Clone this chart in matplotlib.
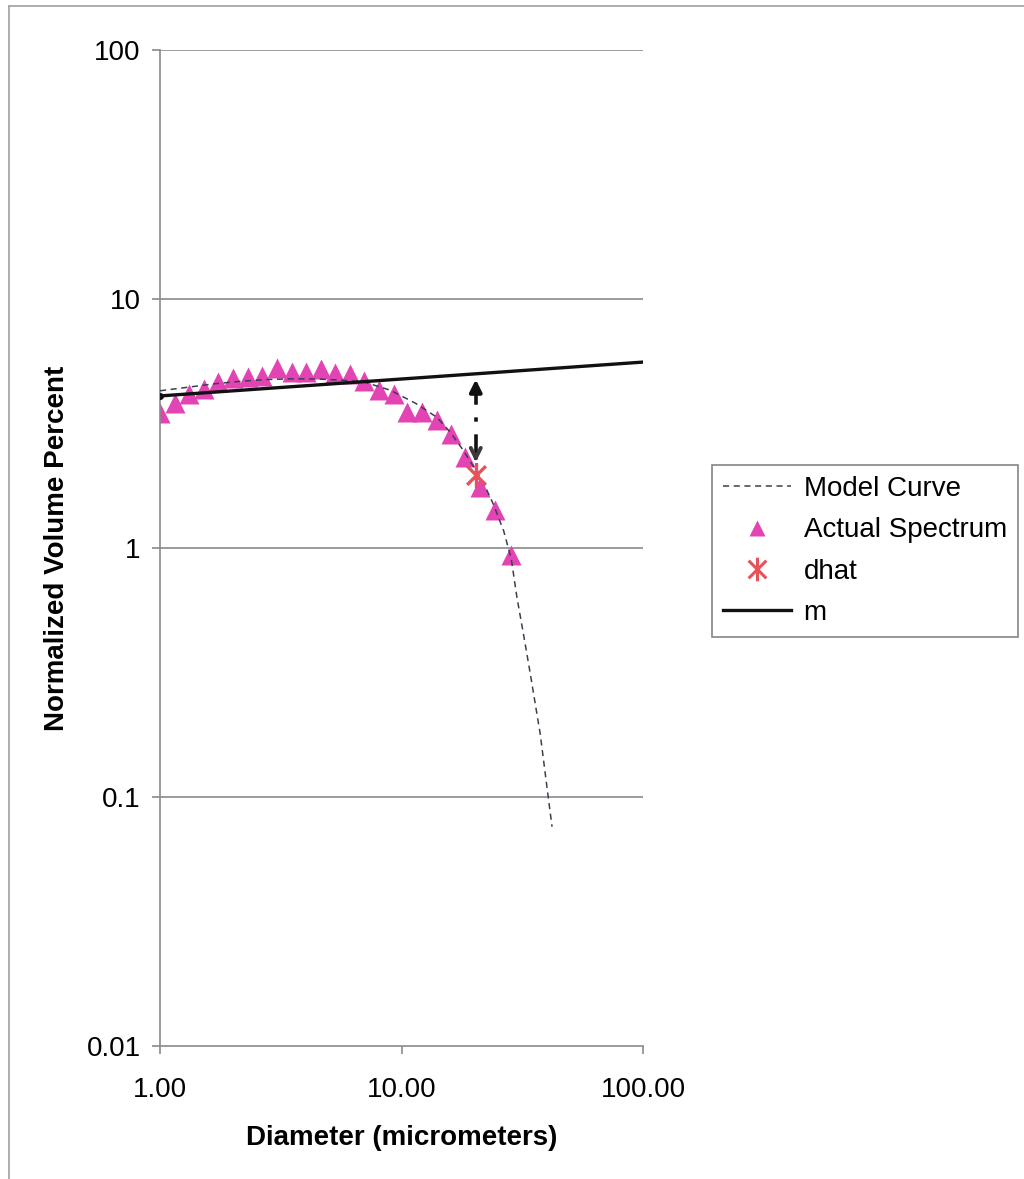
import matplotlib
matplotlib.use("Agg")
import matplotlib.pyplot as plt
from matplotlib.path import Path
from matplotlib.lines import Line2D

plt.rcParams['font.family'] = ['Liberation Sans', 'DejaVu Sans']

# measured spectrum (diameter in micrometers, normalized volume percent)
spec_d = [1.00, 1.15, 1.32, 1.52, 1.74, 2.01, 2.31, 2.65, 3.04, 3.51, 4.01, 4.63,
          5.30, 6.12, 6.99, 8.07, 9.31, 10.5, 12.2, 14.0, 16.0, 18.3, 21.1, 24.5, 28.3]
spec_v = [3.47, 3.83, 4.15, 4.34, 4.66, 4.80, 4.85, 4.91, 5.27, 5.08, 5.08, 5.22,
          5.03, 4.99, 4.70, 4.31, 4.14, 3.53, 3.53, 3.27, 2.86, 2.33, 1.76, 1.42, 0.94]

# fitted model curve
model_d = [1.0, 1.3, 1.7, 2.2, 2.8, 3.5, 4.5, 5.5, 7.0, 9.0, 11.5, 14.0, 16.0,
           18.0, 20.0, 22.0, 24.0, 26.5, 28.5, 30.0, 32.0, 34.0, 37.5, 40.5, 42.0]
model_v = [4.28, 4.42, 4.57, 4.68, 4.75, 4.78, 4.77, 4.73, 4.64, 4.30, 3.80, 3.35, 2.90,
           2.47, 2.10, 1.80, 1.50, 1.17, 0.90, 0.64, 0.45, 0.32, 0.18, 0.10, 0.076]

# slope line m
m_d = [1.0, 100.0]
m_v = [4.08, 5.58]

# dhat point and the gap arrow up to m
dhat_d = 20.3
dhat_v = 1.96
gap_low = 2.21
gap_high = 4.75

x_ticks = [1, 10, 100]
x_labels = ['1.00', '10.00', '100.00']
y_ticks = [0.01, 0.1, 1, 10, 100]
y_labels = ['0.01', '0.1', '1', '10', '100']

fig = plt.figure(figsize=(10.24, 11.79), dpi=100)
ax = fig.add_axes([0.15625, 0.1128, 0.4717, 0.8448])

ax.set_xscale('log')
ax.set_yscale('log')
ax.set_xlim(1, 100)
ax.set_ylim(0.01, 100)

grid_c = '#8a8a8a'
for yv in y_ticks[1:]:
    ax.axhline(yv, color=grid_c, lw=1.2, zorder=0)

# asterisk marker: an X plus a vertical bar
star = Path([(-0.75, -0.75), (0.75, 0.75), (-0.75, 0.75), (0.75, -0.75), (0, -1), (0, 1)],
            [Path.MOVETO, Path.LINETO, Path.MOVETO, Path.LINETO, Path.MOVETO, Path.LINETO])

tri_c = '#e344b4'
model_c = '#3e3e50'
ax.plot(model_d, model_v, color=model_c, lw=1.1, ls=(0, (4, 3)), zorder=3)
ax.plot(spec_d, spec_v, ls='none', marker='^', ms=14, color=tri_c, mec='none', zorder=2)
ax.plot(m_d, m_v, color='#111111', lw=2.4, zorder=4)
ax.plot([dhat_d], [dhat_v], ls='none', marker=star, ms=18, mew=2.4, color='#e8505a',
        mfc='none', zorder=5)
ax.plot([1.0], [m_v[0]], ls='none', marker='o', ms=4, color='#111111', zorder=4)

# dash-dot arrow between dhat and m
ax.plot([dhat_d, dhat_d], [gap_low * 1.06, gap_high * 0.92], color='#111111', lw=2.6,
        ls=(0, (6, 3.5, 1.2, 3.5)), zorder=4)
ax.annotate('', xy=(dhat_d, gap_high), xytext=(dhat_d, gap_high * 0.92),
            arrowprops=dict(arrowstyle='-|>', color='#111111', lw=2.8,
                            mutation_scale=18, shrinkA=0, shrinkB=0), zorder=6)
ax.annotate('', xy=(dhat_d, gap_low), xytext=(dhat_d, gap_low * 1.07),
            arrowprops=dict(arrowstyle='->', color='#3a3a3a', lw=2.8,
                            mutation_scale=18, shrinkA=0, shrinkB=0), zorder=6)

for s in ['top', 'right']:
    ax.spines[s].set_visible(False)
for s in ['left', 'bottom']:
    ax.spines[s].set_color(grid_c)
    ax.spines[s].set_linewidth(1.2)

ax.set_xticks(x_ticks)
ax.set_xticklabels(x_labels)
ax.set_yticks(y_ticks)
ax.set_yticklabels(y_labels)
ax.minorticks_off()
ax.tick_params(axis='x', length=6, width=1.2, color=grid_c, labelsize=20, pad=16)
ax.tick_params(axis='y', length=6, width=1.2, color=grid_c, labelsize=20, pad=8)

ax.set_xlabel('Diameter (micrometers)', fontsize=20, fontweight='bold', labelpad=16)
ax.set_ylabel('Normalized Volume Percent', fontsize=20, fontweight='bold', labelpad=12)

handles = [
    Line2D([], [], color=model_c, lw=1.1, ls=(0, (4, 3))),
    Line2D([], [], ls='none', marker='^', ms=12, color=tri_c, mec='none'),
    Line2D([], [], ls='none', marker=star, ms=17, mew=2.2, color='#e8505a', mfc='none'),
    Line2D([], [], color='#111111', lw=2.4),
]
leg = fig.legend(handles, ['Model Curve', 'Actual Spectrum', 'dhat', 'm'],
                 loc='upper left', bbox_to_anchor=(712 / 1024, 1 - 465 / 1179),
                 fontsize=20, frameon=True, fancybox=False, borderpad=0.4,
                 handlelength=2.45, handletextpad=0.45, labelspacing=0.55,
                 borderaxespad=0)
leg.get_frame().set_edgecolor('#666666')
leg.get_frame().set_linewidth(1.2)

# outer chart border (left and top edges)
fig.add_artist(Line2D([8.5 / 1024, 8.5 / 1024], [0, 1 - 6 / 1179], color='#a0a0a0', lw=1.2))
fig.add_artist(Line2D([8.5 / 1024, 1.0], [1 - 6 / 1179, 1 - 6 / 1179], color='#a0a0a0', lw=1.2))

fig.savefig('out.png', dpi=100)
